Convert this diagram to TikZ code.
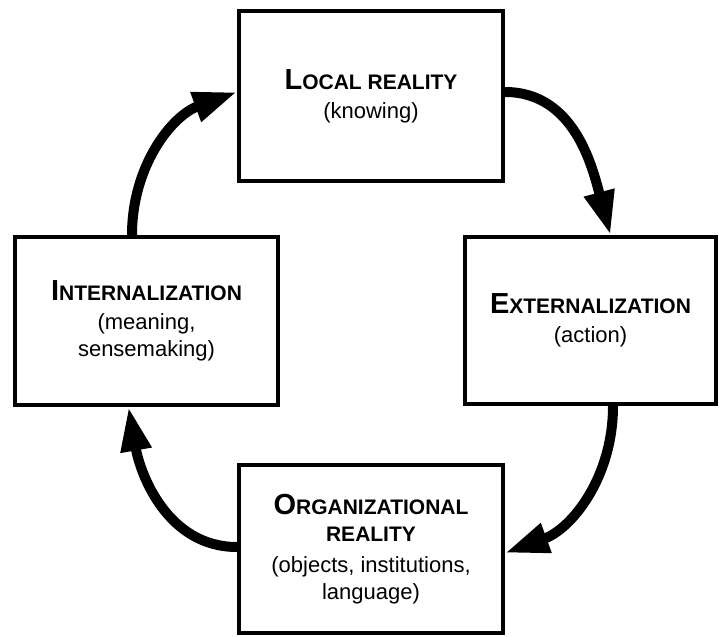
\documentclass[tikz,border=0pt]{standalone}
\usepackage{fontspec}
\setmainfont{Liberation Sans}
\usetikzlibrary{arrows.meta}
\newcommand\cyclettl[2]{{\bfseries\fontsize{29}{28}\selectfont #1\fontsize{21}{28}\selectfont\MakeUppercase{#2}}}

\begin{document}
\begin{tikzpicture}[x=1pt,y=-1pt
,cyclebox/.style={draw=black,line width=4pt,align=center,inner sep=0pt,font=\fontsize{22}{27}\selectfont}
,cycleflow/.style={draw=black,line width=10pt,-{Triangle[length=44pt,width=29pt]}}
]
\useasboundingbox (0,0) rectangle (720,637);
\node[cyclebox,minimum width=264pt,minimum height=170pt] (local) at (371,96) {\cyclettl{L}{ocal reality}\\[2pt](knowing)};
\node[cyclebox,minimum width=251pt,minimum height=167pt] (extern) at (590.5,320.5) {\cyclettl{E}{xternalization}\\[2pt](action)};
\node[cyclebox,minimum width=264pt,minimum height=168pt] (org) at (371,549) {\cyclettl{O}{rganizational}\\\cyclettl{}{reality}\\[4pt](objects, institutions,\\language)};
\node[cyclebox,minimum width=263pt,minimum height=168pt] (intern) at (146.5,321) {\cyclettl{I}{nternalization}\\[2pt](meaning,\\sensemaking)};
\draw[cycleflow] ([yshift=4pt]local.east) to[out=0,in=105] ([xshift=20pt]extern.north);
\draw[cycleflow] ([xshift=22.5pt]extern.south) to[out=-90,in=20] ([yshift=-4pt]org.east);
\draw[cycleflow] ([yshift=2pt]org.west) to[out=180,in=-80] ([xshift=-18pt]intern.south);
\draw[cycleflow] ([xshift=-14.5pt]intern.north) to[out=90,in=200] ([yshift=4pt]local.west);
\end{tikzpicture}
\end{document}
